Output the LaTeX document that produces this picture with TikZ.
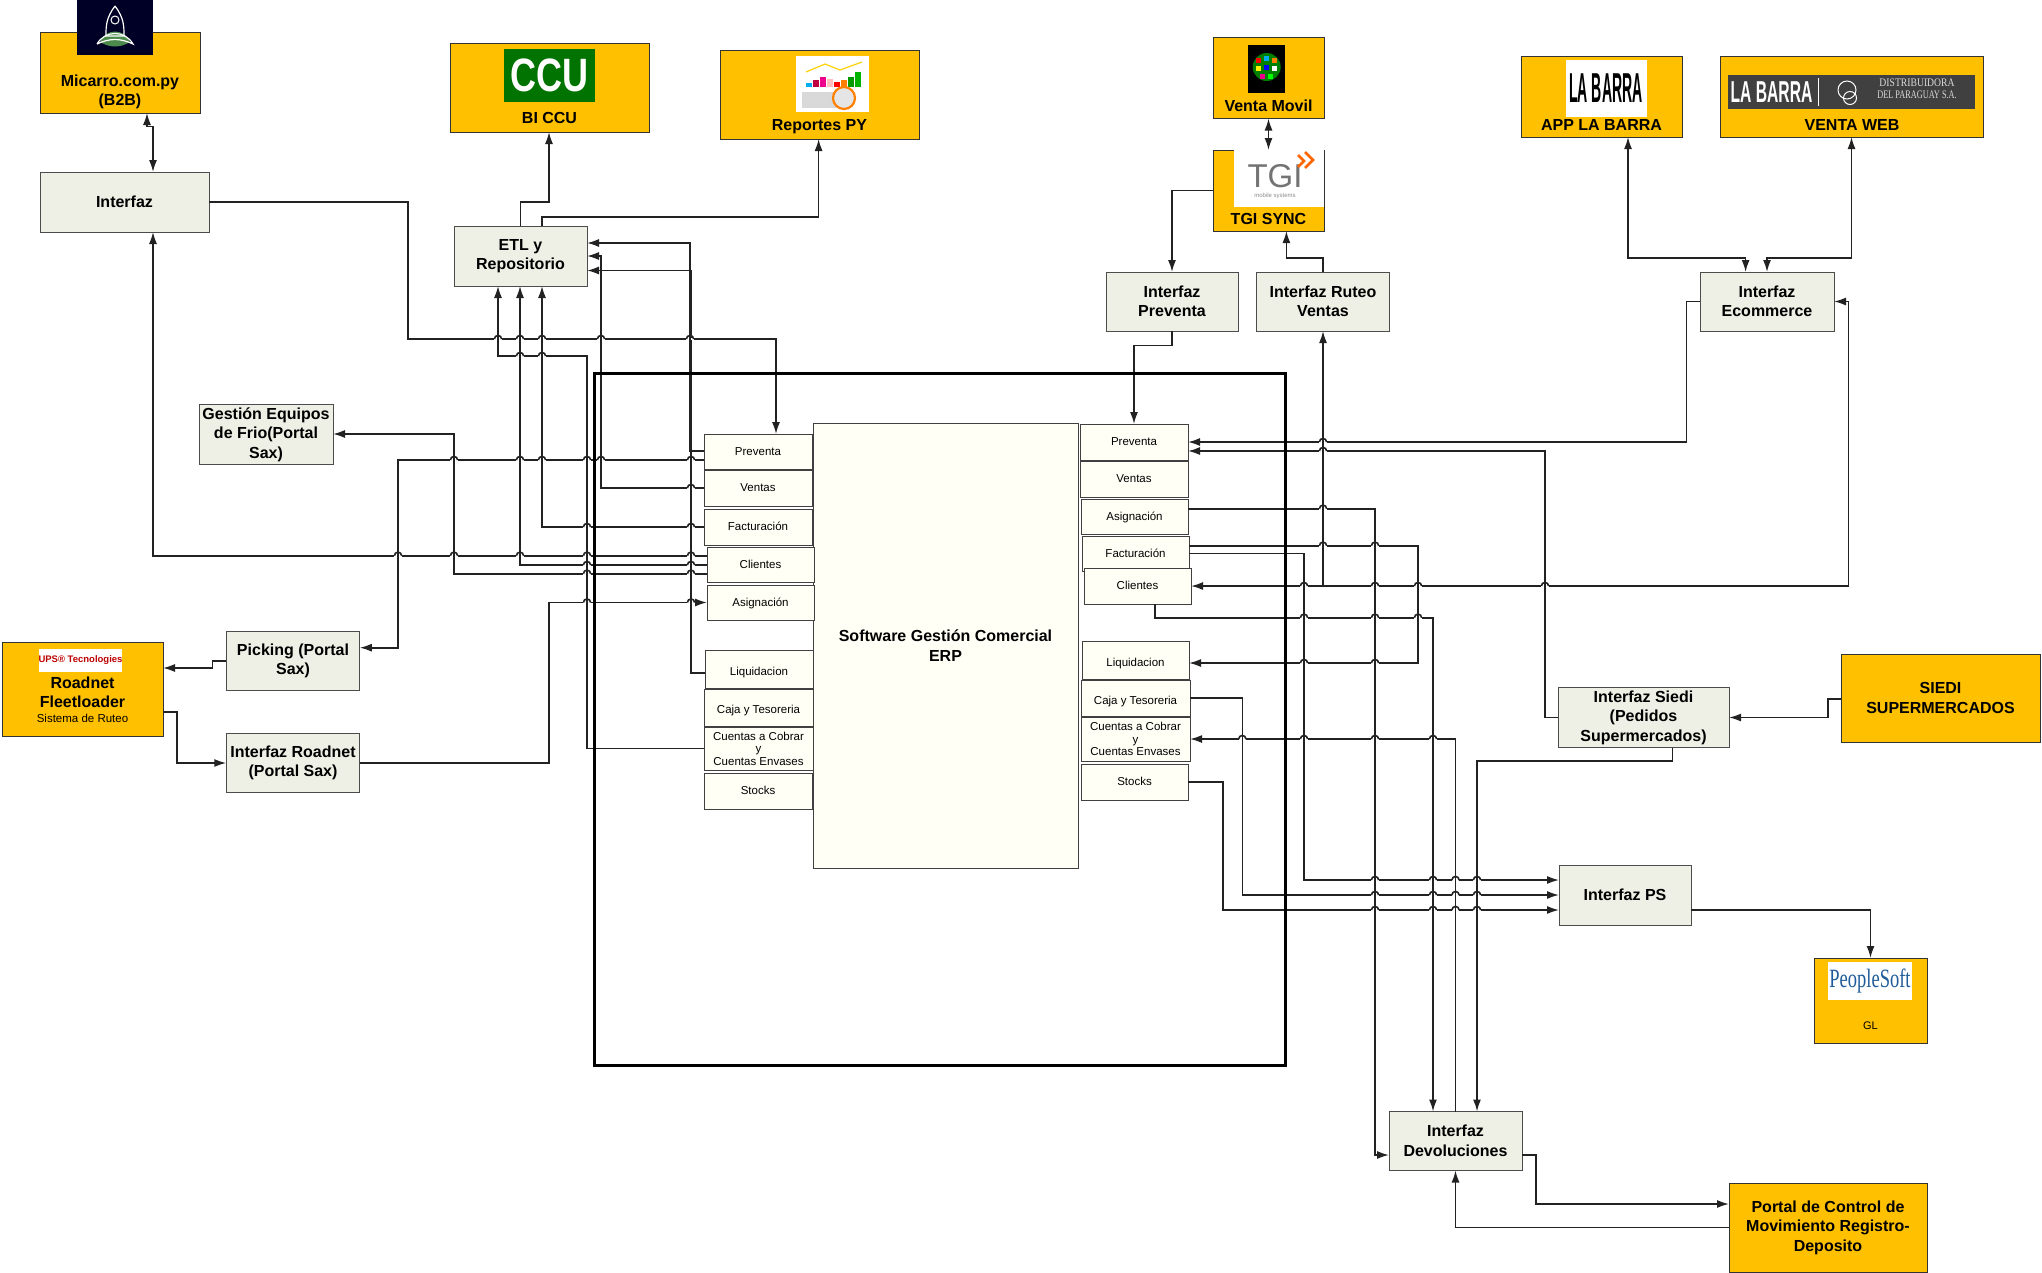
\documentclass[tikz,border=0pt]{standalone}
\usepackage{fontspec}
\setmainfont{Liberation Sans}
\newfontfamily\seriffont{Liberation Serif}
\usetikzlibrary{arrows.meta}

\definecolor{sysyellow}{HTML}{FFC000}
\definecolor{ifacefill}{HTML}{EEF0E5}
\definecolor{modfill}{HTML}{FFFFF6}
\definecolor{linegray}{HTML}{222222}
\definecolor{softblue}{HTML}{1F5C99}

\tikzset{
	ifacebox/.style={draw=black!70,line width=1pt,fill=ifacefill,outer sep=0pt,inner sep=0pt,align=center,font=\fontsize{16}{19.5}\selectfont\bfseries},
	sysbox/.style={draw=black!80,line width=1pt,fill=sysyellow,outer sep=0pt,inner sep=0pt,align=center,font=\fontsize{16}{19.5}\selectfont\bfseries},
	modbox/.style={draw=black!75,line width=1pt,fill=modfill,outer sep=0pt,inner sep=0pt,align=center,font=\fontsize{11.5}{12.5}\selectfont},
	modline/.style={modbox,text height=10pt,text depth=2.5pt},
	modlow/.style={modbox,text height=14.5pt,text depth=2.5pt},
	boxlabel/.style={inner sep=0pt,align=center,font=\fontsize{16}{19.5}\selectfont\bfseries},
	logobox/.style={inner sep=0pt,outer sep=0pt,align=center},
	link/.style={draw=linegray,line width=1.6pt,>={Latex[length=12pt,width=8pt]}},
}

\newcommand{\hop}[2]{
	\fill[white] (#1-3.6,#2-1.3) rectangle (#1+3.6,#2+1.3);
	\draw[link] (#1-3.6,#2) arc (180:0:3.6pt);
	\draw[link,line width=1.2pt] (#1,#2-4) -- (#1,#2+2);
}

\begin{document}
\begin{tikzpicture}[x=1pt,y=-1pt]
	\useasboundingbox (0,0) rectangle (2042,1272);

	\node[sysbox,minimum width=160pt,minimum height=81pt] (micarro) at (120,72.5) {};
	\node[sysbox,minimum width=199pt,minimum height=89pt] (biccu) at (549.5,87.5) {};
	\node[sysbox,minimum width=199pt,minimum height=89pt] (reportes) at (819.5,94.5) {};
	\node[sysbox,minimum width=111pt,minimum height=81pt] (ventamovil) at (1268.5,78) {};
	\node[sysbox,minimum width=111pt,minimum height=81pt] (tgisync) at (1268.5,190.5) {};
	\node[sysbox,minimum width=161pt,minimum height=81pt] (applabarra) at (1601.5,96.5) {};
	\node[sysbox,minimum width=263pt,minimum height=81pt] (ventaweb) at (1851.5,96.5) {};
	\node[sysbox,minimum width=161pt,minimum height=94pt] (roadnet) at (82.5,689) {};
	\node[sysbox,minimum width=199pt,minimum height=88pt] (siedi) at (1940.5,698) {SIEDI\\SUPERMERCADOS};
	\node[sysbox,minimum width=113pt,minimum height=85pt] (peoplesoft) at (1870.5,1000.5) {};
	\node[sysbox,minimum width=198pt,minimum height=89pt] (portal) at (1828,1227.5) {Portal de Control de\\Movimiento Registro-\\Deposito};

	\node[logobox,fill=black!85!blue,minimum width=76pt,minimum height=55pt] (rocketlogo) at (115,27.5) {};
	\fill[green!35!black!70] (100,42) .. controls (106,28) and (124,28) .. (130,42) .. controls (120,48) and (110,48) .. (100,42);
	\draw[white,line width=1.2pt] (115,6) .. controls (124,18) and (124,26) .. (124,36) -- (106,36) .. controls (106,26) and (106,18) .. (115,6);
	\draw[white,line width=1.2pt] (97,44) .. controls (105,30) and (125,30) .. (133,44) .. controls (120,38) and (110,38) .. (97,44);
	\draw[white,line width=1pt] (115,20) circle (4pt);
	\node[logobox,fill=green!45!black,text=white,minimum width=91pt,minimum height=53pt,font=\fontsize{36}{36}\selectfont\bfseries] (ccUlogo) at (549.5,75.5) {\scalebox{1}[1.3]{CCU}};
	\node[logobox,fill=white,minimum width=73pt,minimum height=56pt] (chartlogo) at (832.5,84) {};
	\draw[yellow!70!orange,line width=1.2pt] (806,72) -- (825,64) -- (840,70) -- (862,62);
	\foreach \x/\h/\c in {806/4/cyan,813/7/purple,820/10/magenta,827/8/pink,834/5/red,841/7/orange,848/10/green!60!black,855/15/green!70!black}
		\fill[\c] (\x,87-\h) rectangle (\x+6,87);
	\fill[black!15] (802,92) rectangle (845,108);
	\draw[orange,line width=2.2pt,fill=black!10] (844,98) circle (11pt);
	\node[logobox,fill=black,minimum width=36.5pt,minimum height=48pt] (movillogo) at (1266.7,69) {};
	\fill[green!50!black] (1266.7,67) circle (14pt);
	\foreach \x/\y/\c in {1258/60/red,1266/58/cyan,1274/60/orange,1258/68/yellow,1266/67/blue,1274/68/white,1262/76/magenta,1270/76/green}
		\fill[\c] (\x-2.5,\y-2.5) rectangle (\x+2.5,\y+2.5);
	\node[logobox,fill=white,minimum width=90pt,minimum height=57pt] (tgilogo) at (1279,178.5) {};
	\node[logobox,text=black!55,font=\fontsize{33}{33}\selectfont] (tgitext) at (1275,176.5) {TGI};
	\node[logobox,text=black!45,font=\fontsize{6}{6}\selectfont] (tgisub) at (1275,196) {mobile systems};
	\draw[orange!80!red,line width=2.6pt] (1305,152) -- (1313,160) -- (1305,168);
	\draw[orange!80!red,line width=2.6pt] (1298,155) -- (1304,161) -- (1298,167);
	\node[logobox,fill=white,minimum width=81pt,minimum height=57pt] (barralogo) at (1606,88.5) {\scalebox{.52}[1.55]{\fontsize{27}{27}\selectfont\bfseries LA BARRA}};
	\node[logobox,fill=black!75,minimum width=247.5pt,minimum height=34pt] (weblogo) at (1851.7,92) {};
	\node[logobox,text=white,font=\fontsize{27}{27}\selectfont\bfseries] (webbarra) at (1771.5,92) {\scalebox{.58}[1.12]{LA BARRA}};
	\draw[white,line width=1pt] (1818.6,78) -- (1818.6,106);
	\draw[white,line width=1pt] (1847,90) circle (9pt);
	\draw[white,line width=1pt] (1850,98) circle (6.5pt);
	\node[logobox,text=black!15,font=\seriffont\fontsize{11.5}{11.5}\selectfont] (webdist) at (1917,83) {\scalebox{.84}[1]{DISTRIBUIDORA}};
	\node[logobox,text=black!15,font=\seriffont\fontsize{11.5}{11.5}\selectfont] (webpar) at (1917,94.5) {\scalebox{.72}[1]{DEL PARAGUAY S.A.}};
	\node[logobox,fill=white,text=red!75!black,minimum width=83pt,minimum height=23pt,font=\fontsize{9.5}{9.5}\selectfont\bfseries] (upslogo) at (80.5,660.5) {UPS® Tecnologies};
	\node[logobox,fill=white,text=softblue,minimum width=84pt,minimum height=38pt,font=\seriffont\fontsize{22}{22}\selectfont] (softlogo) at (1870,981) {\scalebox{.84}[1.2]{PeopleSoft}};

	\node[boxlabel] (micarrotext) at (120,92) {Micarro.com.py\\(B2B)};
	\node[boxlabel] (biccutext) at (549.5,118) {BI CCU};
	\node[boxlabel] (reportestext) at (819.5,127) {Reportes PY};
	\node[boxlabel] (movilttext) at (1268.5,105.5) {Venta Movil};
	\node[boxlabel] (tgitextb) at (1268.5,219) {TGI SYNC};
	\node[boxlabel] (applabarratext) at (1601.5,124.5) {APP LA BARRA};
	\node[boxlabel] (ventawebtext) at (1852,124.5) {VENTA WEB};
	\node[boxlabel] (roadnettext) at (82.5,692.5) {Roadnet\\Fleetloader};
	\node[boxlabel,font=\fontsize{11.5}{12.5}\selectfont] (ruteotext) at (82.5,718) {Sistema de Ruteo};
	\node[boxlabel,font=\fontsize{11}{12}\selectfont] (gltext) at (1870.5,1026) {GL};

	\node[ifacebox,minimum width=169pt,minimum height=60pt] (interfaz) at (124.5,202) {Interfaz};
	\node[ifacebox,minimum width=133pt,minimum height=60pt] (etl) at (520.5,256) {ETL y\\Repositorio};
	\node[ifacebox,minimum width=134pt,minimum height=60pt] (gestion) at (266,434.5) {Gestión Equipos\\de Frio(Portal\\Sax)};
	\node[ifacebox,minimum width=133.5pt,minimum height=59pt] (picking) at (293,661) {Picking (Portal\\Sax)};
	\node[ifacebox,minimum width=133.5pt,minimum height=59pt] (iroadnet) at (293,763) {Interfaz Roadnet\\(Portal Sax)};
	\node[ifacebox,minimum width=132pt,minimum height=59pt] (ipreventa) at (1172,301.5) {Interfaz\\Preventa};
	\node[ifacebox,minimum width=132.5pt,minimum height=59pt] (iruteo) at (1323,301.5) {Interfaz Ruteo\\Ventas};
	\node[ifacebox,minimum width=134pt,minimum height=59pt] (iecommerce) at (1767,301.5) {Interfaz\\Ecommerce};
	\node[ifacebox,minimum width=171pt,minimum height=60pt] (isiedi) at (1643.5,717.5) {Interfaz Siedi\\(Pedidos\\Supermercados)};
	\node[ifacebox,minimum width=132pt,minimum height=60pt] (ips) at (1625,895) {Interfaz PS};
	\node[ifacebox,minimum width=133pt,minimum height=59pt] (idev) at (1455.5,1141) {Interfaz\\Devoluciones};

	\node[modbox,font=\fontsize{16}{19.5}\selectfont\bfseries,minimum width=265pt,minimum height=445pt] (erp) at (945.5,645.5) {Software Gestión Comercial\\ERP};

	\node[modline,minimum width=108pt,minimum height=35pt] (prevl) at (758,451.5) {Preventa};
	\node[modline,minimum width=108pt,minimum height=36pt] (ventasl) at (758,488) {Ventas};
	\node[modline,minimum width=108pt,minimum height=36pt] (factl) at (758,527) {Facturación};
	\node[modline,minimum width=107pt,minimum height=35pt] (clil) at (760.5,565) {Clientes};
	\node[modline,minimum width=107pt,minimum height=35pt] (asigl) at (760.5,602.5) {Asignación};
	\node[modlow,minimum width=108pt,minimum height=38pt] (liql) at (759,669) {Liquidacion};
	\node[modlow,minimum width=109pt,minimum height=37pt] (cajal) at (758.5,707.5) {Caja y Tesoreria};
	\node[modbox,minimum width=109pt,minimum height=43pt] (ctasl) at (758.5,748.5) {Cuentas a Cobrar\\y\\Cuentas Envases};
	\node[modline,minimum width=108pt,minimum height=36pt] (stockl) at (758,791) {Stocks};

	\node[modline,minimum width=108pt,minimum height=36pt] (prevr) at (1134,442) {Preventa};
	\node[modline,minimum width=108pt,minimum height=36pt] (ventasr) at (1134,479) {Ventas};
	\node[modline,minimum width=107pt,minimum height=35pt] (asigr) at (1134.5,516.5) {Asignación};
	\node[modline,minimum width=107pt,minimum height=35pt] (factr) at (1135.5,553.5) {Facturación};
	\node[modline,minimum width=107pt,minimum height=36pt] (clir) at (1137.5,586) {Clientes};
	\node[modlow,minimum width=107pt,minimum height=38pt] (liqr) at (1135.5,660) {Liquidacion};
	\node[modlow,minimum width=109pt,minimum height=36pt] (cajar) at (1135.5,698) {Caja y Tesoreria};
	\node[modbox,minimum width=109pt,minimum height=44pt] (ctasr) at (1135.5,739) {Cuentas a Cobrar\\y\\Cuentas Envases};
	\node[modline,minimum width=107pt,minimum height=36pt] (stockr) at (1134.5,782) {Stocks};

	\draw[link,<->] (micarro.south -| 147,0) |- (153,126.5) -- (interfaz.north -| 153,0);
	\draw[link,->] (interfaz.east) -| (408,339) -| (prevl.north -| 776,0);
	\draw[link,->] (etl.north) |- (549,202) -- (biccu.south -| 549,0);
	\draw[link,->] (etl.north -| 542,0) |- (818.6,217) -- (reportes.south -| 818.6,0);
	\draw[link,->] (prevl.west |- 0,451) -| (690,243) -- (etl.east |- 0,243);
	\draw[link,->] (ventasl.west) -| (601,256) -- (etl.east |- 0,256);
	\draw[link,->] (liql.west |- 0,672.7) -| (691,270.5) -- (etl.east |- 0,270.5);
	\draw[link,->] (factl.west) -| (etl.south -| 542,0);
	\draw[link,->] (clil.west) -| (etl.south -| 520,0);
	\draw[link,->] (ctasl.west) -| (587,356) -| (etl.south -| 498,0);
	\draw[link,->] (clil.west |- 0,555.7) -| (interfaz.south -| 153,0);
	\draw[link,->] (clil.west |- 0,573.7) -| (454,434) -- (gestion.east |- 0,434);
	\draw[link,->] (prevl.west |- 0,460) -| (398,647.7) -- (picking.east |- 0,647.7);
	\draw[link,->] (picking.west) -| (212.5,668) -- (roadnet.east |- 0,668);
	\draw[link,->] (roadnet.east |- 0,712) -| (176.7,763) -- (iroadnet.west);
	\draw[link,->] (iroadnet.east) -| (549,602.5) -- (asigl.west);

	\draw[link,<->] (ventamovil.south) -- (tgisync.north);
	\draw[link,->] (tgisync.west) -| (ipreventa.north);
	\draw[link,->] (iruteo.north) |- (1286.4,258) -- (tgisync.south -| 1286.4,0);
	\draw[link,->] (ipreventa.south) |- (1134,345.6) -- (prevr.north);
	\draw[link,<->] (applabarra.south -| 1628,0) |- (1745.6,258) -- (iecommerce.north -| 1745.6,0);
	\draw[link,<->] (ventaweb.south) |- (1767,258) -- (iecommerce.north);
	\draw[link,->] (iecommerce.west) -| (1686.4,442) -- (prevr.east);
	\draw[link,<->] (iecommerce.east) -| (1848.6,586) -- (clir.east);
	\draw[link,->] (1323,586) -- (iruteo.south);
	\draw[link,->] (isiedi.west) -| (1545,451) -- (prevr.east |- 0,451);
	\draw[link,->] (siedi.west |- 0,699) -| (1828,717.5) -- (isiedi.east);
	\draw[link,->] (isiedi.south -| 1672.6,0) |- (1477,761) -- (idev.north -| 1477,0);
	\draw[link,->] (asigr.east |- 0,508.7) -| (1375,1155) -- (idev.west |- 0,1155);
	\draw[link,->] (factr.east |- 0,545.7) -| (1417.7,663) -- (liqr.east |- 0,663);
	\draw[link,->] (factr.east) -| (1304,880) -- (ips.west |- 0,880);
	\draw[link,->] (clir.south -| 1155,0) |- (1433,617.7) -- (idev.north -| 1433,0);
	\draw[link,->] (idev.north) |- (ctasr.east);
	\draw[link,->] (cajar.east) -| (1242.3,895) -- (ips.west);
	\draw[link,->] (stockr.east) -| (1223,910) -- (ips.west |- 0,910);
	\draw[link,->] (ips.east |- 0,910) -| (peoplesoft.north);
	\draw[link,->] (idev.east |- 0,1155) -| (1536,1204) -- (portal.west |- 0,1204);
	\draw[link,->] (portal.west) -| (idev.south);

	\foreach \x in {498,520,542,601,690} {\hop{\x}{339}}
	\foreach \x in {520,542} {\hop{\x}{356}}
	\foreach \x in {454,520,542,587,601,691} {\hop{\x}{460}}
	\hop{691}{488}
	\foreach \x in {587,691} {\hop{\x}{527}}
	\foreach \x in {398,454,520,587,691} {\hop{\x}{555.7}}
	\foreach \x in {587,691} {\hop{\x}{565}}
	\foreach \x in {587,691} {\hop{\x}{573.7}}
	\foreach \x in {587,691} {\hop{\x}{602.5}}
	\foreach \y in {442,451,508.7,545.7} {\hop{1323}{\y}}
	\hop{1375}{545.7}
	\foreach \x in {1304,1375,1418,1545} {\hop{\x}{586}}
	\foreach \x in {1304,1375,1418} {\hop{\x}{617.7}}
	\foreach \x in {1304,1375} {\hop{\x}{663}}
	\foreach \x in {1242.3,1304,1375,1433} {\hop{\x}{739}}
	\foreach \y in {880,895,910} {
		\foreach \x in {1375,1433,1455.5,1477} {\hop{\x}{\y}}
	}

	\node[draw=black,line width=3pt,outer sep=0pt,minimum width=691pt,minimum height=692pt] (frame) at (939.5,719) {};

\end{tikzpicture}
\end{document}
